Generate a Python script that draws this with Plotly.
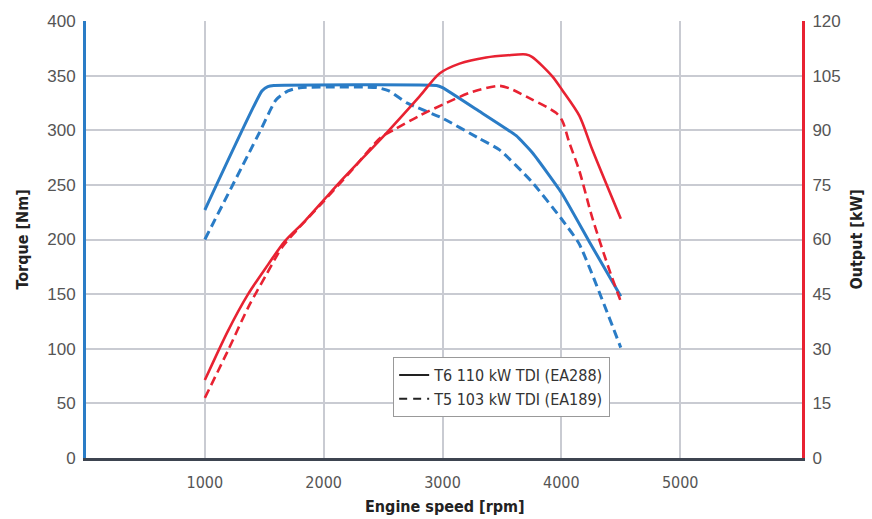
import plotly.graph_objects as go

# ---- data ----
rpm_t6_torque = [1000, 1480, 1530, 1580, 2950, 3000, 3300, 3620, 3760, 4000, 4235, 4500]
t6_torque     = [227,  336,  340,  341,  341,  339,  318,  295,  279,  243,  198,  148]

rpm_t5_torque = [1000, 1460, 1600, 1700, 1800, 2450, 2550, 2700, 3000, 3300, 3480, 3750, 4000, 4150, 4500]
t5_torque     = [200,  298,  328,  336,  339,  339,  336,  325,  311,  293,  282,  253,  219,  196,  101]

rpm_t6_power  = [1000, 1196, 1364, 1532, 1672, 1840, 2000, 2134, 2530, 2807, 2975, 3143, 3367, 3550, 3703, 3756, 3924, 4008, 4151, 4260, 4500]
t6_power      = [21.4, 35,   45,   53.1, 59.5, 65,   70.8, 75.7, 89.3, 99.3, 105.6,108.3,110,  110.6,110.8,110.1,104.8,101,  94,   84.7, 65.7]

rpm_t5_power  = [1000, 1196, 1364, 1518, 1655, 1800, 2000, 2250, 2480, 2600, 2807, 3031, 3255, 3479, 3563, 3731, 3955, 4008, 4067, 4150, 4260, 4400, 4500]
t5_power      = [16.5, 29.6, 41.3, 50.4, 58.1, 63.5, 70.5, 79.5, 88,   90.3, 94,   97.5, 100.6,102.2,101.5,98.8, 94.8, 92.6, 86.6, 79,   66,   52,   43]

x_ticks  = [1000, 2000, 3000, 4000, 5000]
y_ticks  = [0, 50, 100, 150, 200, 250, 300, 350, 400]
y2_ticks = [0, 15, 30, 45, 60, 75, 90, 105, 120]
legend_names = ["T6 110 kW TDI (EA288)", "T5 103 kW TDI (EA189)"]

BLUE = "#2a7cc6"
RED = "#e82232"
GRID = "#c9cbd2"
TICKC = "#555555"
NARROW = "Liberation Sans Narrow, DejaVu Sans Condensed, Roboto Condensed, Roboto, sans-serif"

fig = go.Figure()
fig.add_trace(go.Scatter(x=rpm_t6_torque, y=t6_torque, mode="lines", showlegend=False,
                         line=dict(color=BLUE, width=3, shape="spline", smoothing=0.4)))
fig.add_trace(go.Scatter(x=rpm_t5_torque, y=t5_torque, mode="lines", showlegend=False,
                         line=dict(color=BLUE, width=3, dash="9px,5px", shape="spline", smoothing=0.5)))
fig.add_trace(go.Scatter(x=rpm_t6_power, y=t6_power, mode="lines", showlegend=False, yaxis="y2",
                         line=dict(color=RED, width=2.6, shape="spline", smoothing=0.8)))
fig.add_trace(go.Scatter(x=rpm_t5_power, y=t5_power, mode="lines", showlegend=False, yaxis="y2",
                         line=dict(color=RED, width=2.6, dash="9px,5px", shape="spline", smoothing=0.8)))

# legend entries (black samples)
fig.add_trace(go.Scatter(x=[None], y=[None], mode="lines", name=legend_names[0],
                         line=dict(color="#222222", width=2)))
fig.add_trace(go.Scatter(x=[None], y=[None], mode="lines", name=legend_names[1],
                         line=dict(color="#222222", width=2, dash="8px,6px")))

fig.update_layout(
    width=872, height=519,
    margin=dict(l=86, r=70, t=17, b=61),
    paper_bgcolor="white", plot_bgcolor="white",
    font=dict(family="Liberation Sans, Arial, sans-serif", color=TICKC),
    xaxis=dict(range=[0, 6025], tickvals=x_ticks, showgrid=True, gridcolor=GRID, gridwidth=1.5,
               zeroline=False, showline=True, linecolor="#3d4450", linewidth=3,
               tickfont=dict(family=NARROW, size=16, color=TICKC), ticks="", ticklabelstandoff=8),
    yaxis=dict(range=[0, 400], tickvals=y_ticks, showgrid=True, gridcolor=GRID, gridwidth=1.5,
               zeroline=False, showline=True, linecolor=BLUE, linewidth=3,
               tickfont=dict(size=17, color=TICKC), ticks="", ticklabelstandoff=4),
    yaxis2=dict(range=[0, 120], tickvals=y2_ticks, overlaying="y", side="right", showgrid=False,
                zeroline=False, showline=True, linecolor=RED, linewidth=3,
                tickfont=dict(size=17, color=TICKC), ticks="", ticklabelstandoff=4),
    legend=dict(x=0.429, y=0.231, xanchor="left", yanchor="top", bgcolor="white",
                bordercolor="#999999", borderwidth=1,
                font=dict(family=NARROW, size=16, color="#333333"),
                tracegroupgap=0),
)
pw = 872 - 86 - 70
ph = 519 - 17 - 61
title_font = dict(family=NARROW, size=16, color="#222222")
fig.update_layout(annotations=[
    dict(text="<b>Torque [Nm]</b>", x=(22 - 86) / pw, y=0.5, xref="paper", yref="paper",
         showarrow=False, textangle=-90, xanchor="center", yanchor="middle", font=title_font),
    dict(text="<b>Output [kW]</b>", x=(856 - 86) / pw, y=0.5, xref="paper", yref="paper",
         showarrow=False, textangle=-90, xanchor="center", yanchor="middle", font=title_font),
    dict(text="<b>Engine speed [rpm]</b>", x=(445 - 86) / pw, y=(519 - 61 - 507) / ph,
         xref="paper", yref="paper", showarrow=False, xanchor="center", yanchor="middle",
         font=title_font),
])

fig.write_html("out.html")
